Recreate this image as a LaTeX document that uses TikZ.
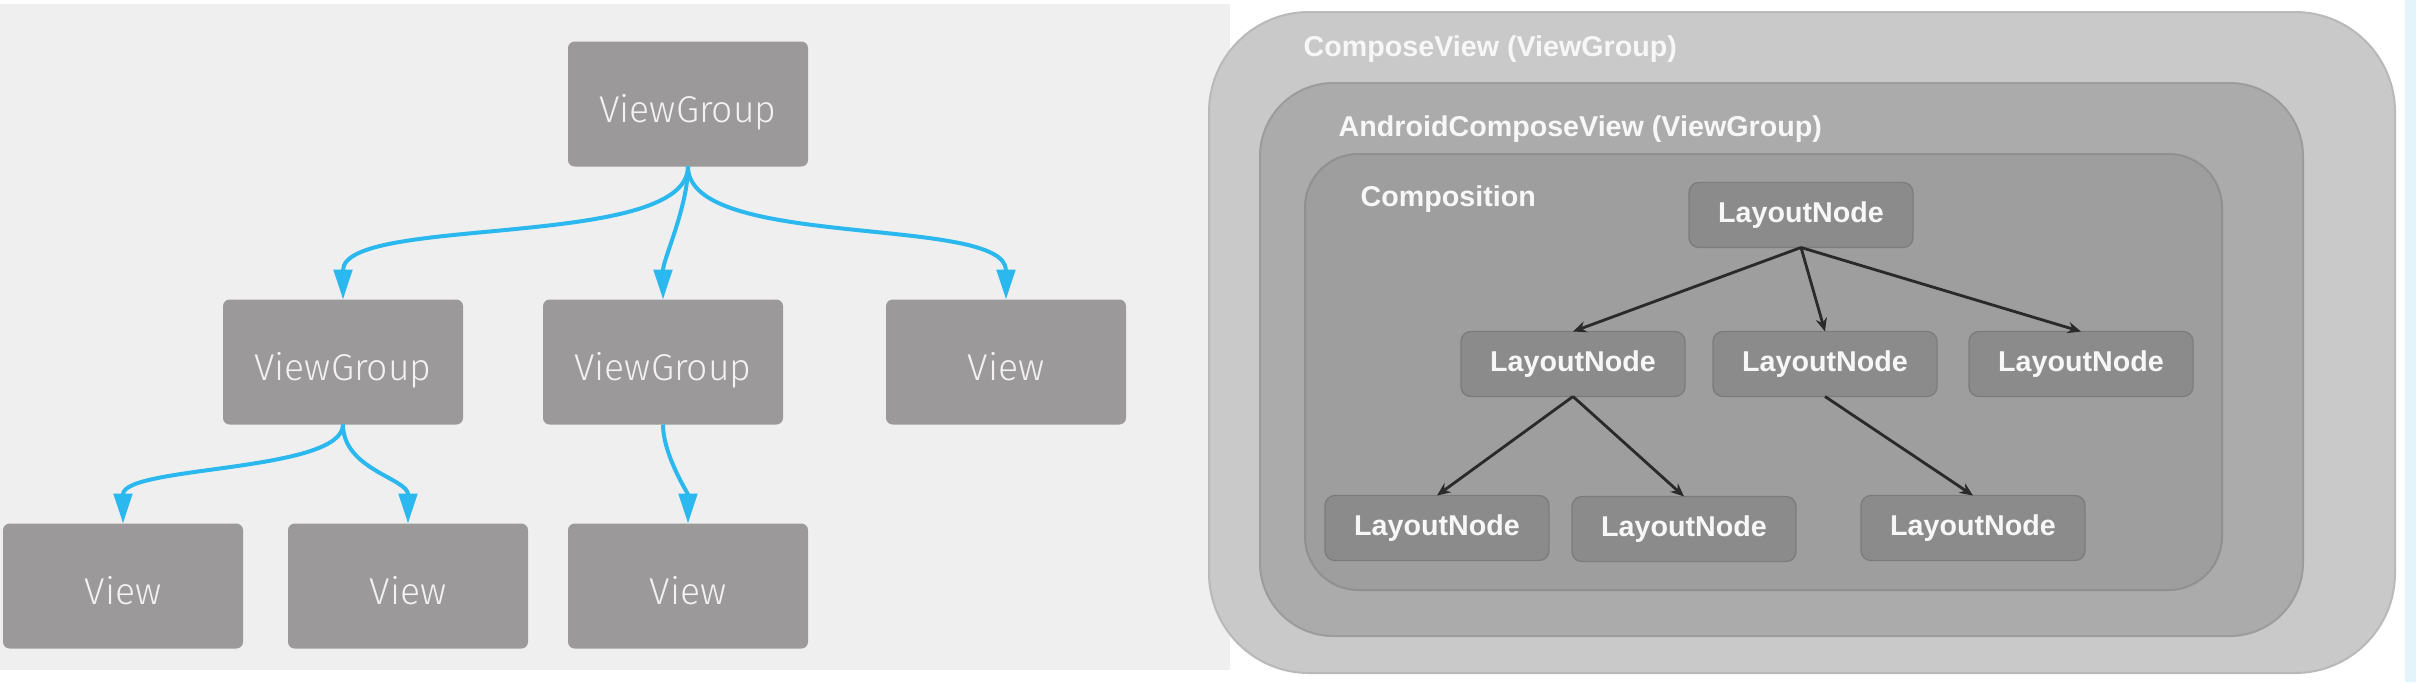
\documentclass[tikz,border=0pt]{standalone}
\usepackage{fontspec}
\setmainfont{Liberation Sans}
\newfontfamily\lightfont{Fira Sans Light}
\usetikzlibrary{arrows.meta}
\definecolor{leftbg}{HTML}{EFEFEF}
\definecolor{lbox}{HTML}{9B999A}
\definecolor{ltext}{HTML}{F2F2F2}
\definecolor{lblue}{HTML}{2BB8EE}
\definecolor{outerc}{HTML}{C9C9C9}
\definecolor{outerd}{HTML}{B9B9B9}
\definecolor{midc}{HTML}{ABABAB}
\definecolor{midd}{HTML}{9C9C9C}
\definecolor{innc}{HTML}{9E9E9E}
\definecolor{innd}{HTML}{909090}
\definecolor{nodec}{HTML}{8B8B8B}
\definecolor{noded}{HTML}{7C7C7C}
\definecolor{rtext}{HTML}{F7F7F7}
\definecolor{darr}{HTML}{2A2A2A}
\definecolor{bluestrip}{HTML}{E3F4FA}
\tikzset{
  viewbox/.style={fill=lbox, rounded corners=2pt, minimum width=72pt, minimum height=37.5pt,
    inner sep=0pt, outer sep=0pt, text=ltext, text height=13.3pt, text depth=2.3pt,
    font=\lightfont\fontsize{11.2pt}{12pt}\selectfont},
  lnode/.style={fill=nodec, draw=noded, line width=0.4pt, rounded corners=3pt, minimum width=67.2pt,
    minimum height=19.5pt, inner sep=0pt, outer sep=0pt, text=rtext, font=\fontsize{8.6pt}{10pt}\selectfont\bfseries},
  grplabel/.style={anchor=west, inner sep=0pt, text=rtext, font=\fontsize{8.6pt}{10pt}\selectfont\bfseries},
  bluearrow/.style={draw=lblue, line width=1.2pt, -{Triangle[length=9pt,width=5.5pt]}},
  darkarrow/.style={draw=darr, line width=0.85pt, -{Stealth[length=4pt,width=3.4pt]}}
}
\begin{document}
\begin{tikzpicture}[x=0.3pt,y=-0.3pt]
\useasboundingbox (0,0) rectangle (2416,682);
\fill[white] (0,0) rectangle (2416,682);
\fill[leftbg] (0,4) rectangle (1230,670);
\fill[bluestrip] (2405,0) rectangle (2416,682);
% left tree
\node[viewbox] (vg0) at (688,104) {ViewGroup};
\node[viewbox] (vg1) at (343,362) {ViewGroup};
\node[viewbox] (vg2) at (663,362) {ViewGroup};
\node[viewbox] (v0) at (1006,362) {View};
\node[viewbox] (v1) at (123,586) {View};
\node[viewbox] (v2) at (408,586) {View};
\node[viewbox] (v3) at (688,586) {View};
\draw[bluearrow] (vg0.south) .. controls +(0,84) and +(0,-85) .. (vg1.north);
\draw[bluearrow] (vg0.south) .. controls +(0,40) and +(0,-40) .. (vg2.north);
\draw[bluearrow] (vg0.south) .. controls +(0,84) and +(0,-85) .. (v0.north);
\draw[bluearrow] (vg1.south) .. controls +(0,48) and +(0,-58) .. (v1.north);
\draw[bluearrow] (vg1.south) .. controls +(0,45) and +(0,-45) .. (v2.north);
\draw[bluearrow] (vg2.south) .. controls +(0,30) and +(0,-30) .. (v3.north);
% right nested containers
\draw[fill=outerc, draw=outerd, line width=0.6pt, rounded corners=30pt] (1209,12) rectangle (2395,673);
\draw[fill=midc, draw=midd, line width=0.6pt, rounded corners=22pt] (1260,83) rectangle (2303,636);
\draw[fill=innc, draw=innd, line width=0.6pt, rounded corners=16pt] (1305,154) rectangle (2222,590);
\node[grplabel] (lcv) at (1303,49) {ComposeView (ViewGroup)};
\node[grplabel] (lacv) at (1338,129) {AndroidComposeView (ViewGroup)};
\node[grplabel] (lcomp) at (1360,199) {Composition};
% layout nodes
\node[lnode] (n0) at (1801,215) {LayoutNode};
\node[lnode] (n1) at (1573,364) {LayoutNode};
\node[lnode] (n2) at (1825,364) {LayoutNode};
\node[lnode] (n3) at (2081,364) {LayoutNode};
\node[lnode] (n4) at (1437,528) {LayoutNode};
\node[lnode] (n5) at (1684,529) {LayoutNode};
\node[lnode] (n6) at (1973,528) {LayoutNode};
\draw[darkarrow] (n0.south) -- (n1.north);
\draw[darkarrow] (n0.south) -- (n2.north);
\draw[darkarrow] (n0.south) -- (n3.north);
\draw[darkarrow] (n1.south) -- (n4.north);
\draw[darkarrow] (n1.south) -- (n5.north);
\draw[darkarrow] (n2.south) -- (n6.north);
\end{tikzpicture}
\end{document}
